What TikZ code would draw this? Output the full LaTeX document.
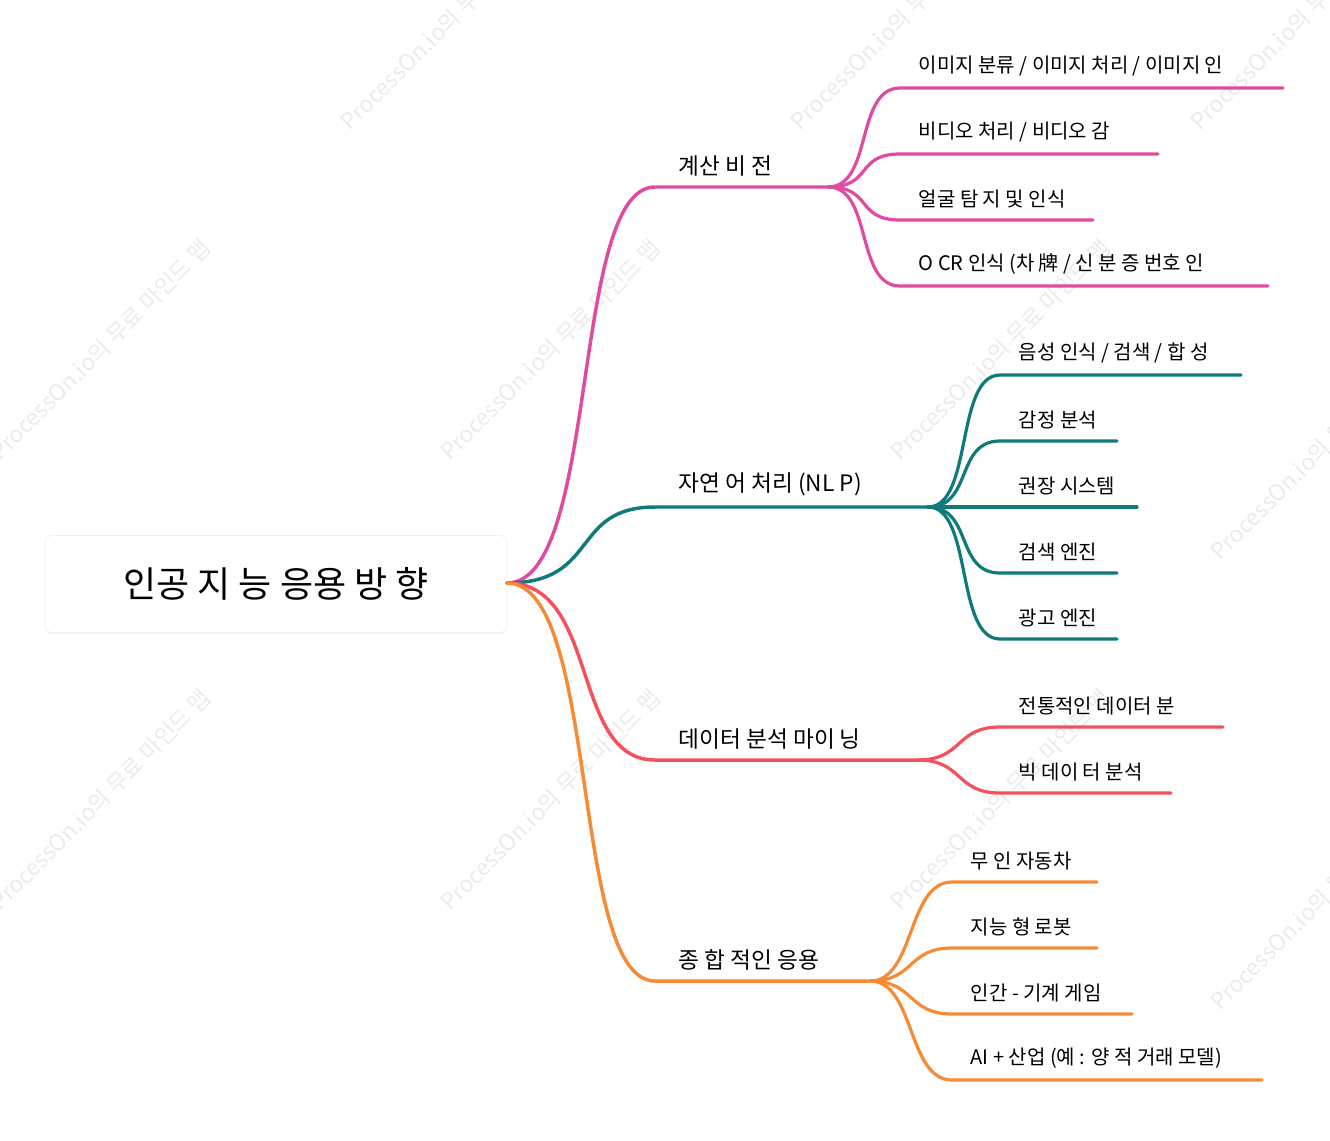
\documentclass[tikz,border=0pt]{standalone}
\usepackage{fontspec}
\setmainfont{Noto Sans CJK KR}
\usetikzlibrary{shadows,calc}
\definecolor{cvpink}{HTML}{DF4BA0}
\definecolor{nlpteal}{HTML}{10797A}
\definecolor{datared}{HTML}{F5515C}
\definecolor{apporange}{HTML}{F58B35}
\begin{document}
\begin{tikzpicture}[x=0.75pt,y=-0.75pt,line width=2.6pt,line cap=round,
                    root node/.style={rounded corners=5pt,fill=white,draw=black!6,line width=0.6pt,
                      drop shadow={opacity=0.08,shadow xshift=0pt,shadow yshift=-1pt},
                      minimum width=346.5pt,minimum height=72.75pt,font=\fontsize{27}{31}\selectfont},
                    branch text/.style={anchor=south west,inner sep=0pt,font=\fontsize{17}{20}\selectfont},
                    leaf text/.style={anchor=south west,inner sep=0pt,font=\fontsize{15}{18}\selectfont},
                    mark text/.style={rotate=45,text=black!8,font=\fontsize{17}{20}\selectfont}]
  \useasboundingbox (0,0) rectangle (1330,1140);
  % watermarks
  \foreach \wx/\wy in {100/350,550/350,1000/350,100/800,550/800,1000/800,450/20,900/20,1300/20,1320/450,1320/900}
    \node[mark text] at (\wx,\wy) {ProcessOn.io의 무료 마인드 맵};
  \node[root node] (root) at (276,584) {인공 지 능 응용 방 향};
  \coordinate (r) at (507,583);
  % branches: color / start y / end x / leaf x / label / name
  \foreach \col/\by/\bx/\lx/\txt/\nm in {cvpink/187/828/900/계산 비 전/cv,
      nlpteal/507/928/1000/자연 어 처리 (NL P)/nlp,
      datared/760/918/1000/데이터 분석 마이 닝/data,
      apporange/981/870/952/종 합 적인 응용/app}{
    \coordinate (\nm a) at (655,\by);
    \coordinate (\nm b) at (\bx,\by);
    \draw[\col] (r) .. controls (600,583) and (570,\by) .. (\nm a) -- (\nm b);
    \node[branch text] (\nm) at (677,\by-9) {\txt};
  }
  % leaves
  \foreach \nm/\col/\lx/\ly/\ex/\txt/\i in {cv/cvpink/900/88/1283/{이미지 분류 / 이미지 처리 / 이미지 인}/1,
      cv/cvpink/900/154/1158/{비디오 처리 / 비디오 감}/2,
      cv/cvpink/900/220/1093/얼굴 탐 지 및 인식/3,
      cv/cvpink/900/286/1268/{O CR 인식 (차 牌 / 신 분 증 번호 인}/4,
      nlp/nlpteal/1000/375/1241/{음성 인식 / 검색 / 합 성}/1,
      nlp/nlpteal/1000/441/1117/감정 분석/2,
      nlp/nlpteal/1000/507/1137/권장 시스템/3,
      nlp/nlpteal/1000/573/1117/검색 엔진/4,
      nlp/nlpteal/1000/639/1117/광고 엔진/5,
      data/datared/1000/727/1223/전통적인 데이터 분/1,
      data/datared/1000/793/1171/빅 데이 터 분석/2,
      app/apporange/952/882/1097/무 인 자동차/1,
      app/apporange/952/948/1097/지능 형 로봇/2,
      app/apporange/952/1014/1132/인간 - 기계 게임/3,
      app/apporange/952/1080/1262/AI + 산업 (예 : 양 적 거래 모델)/4}{
    \coordinate (\nm s\i) at (\lx,\ly);
    \coordinate (\nm e\i) at (\ex,\ly);
    \draw[\col,line width=2.4pt] (\nm b) .. controls ($(\nm b)+(45,0)$) and ($(\nm s\i)+(-45,0)$) .. (\nm s\i) -- (\nm e\i);
    \node[leaf text] (\nm l\i) at (\lx+17,\ly-10) {\txt};
  }
\end{tikzpicture}
\end{document}
